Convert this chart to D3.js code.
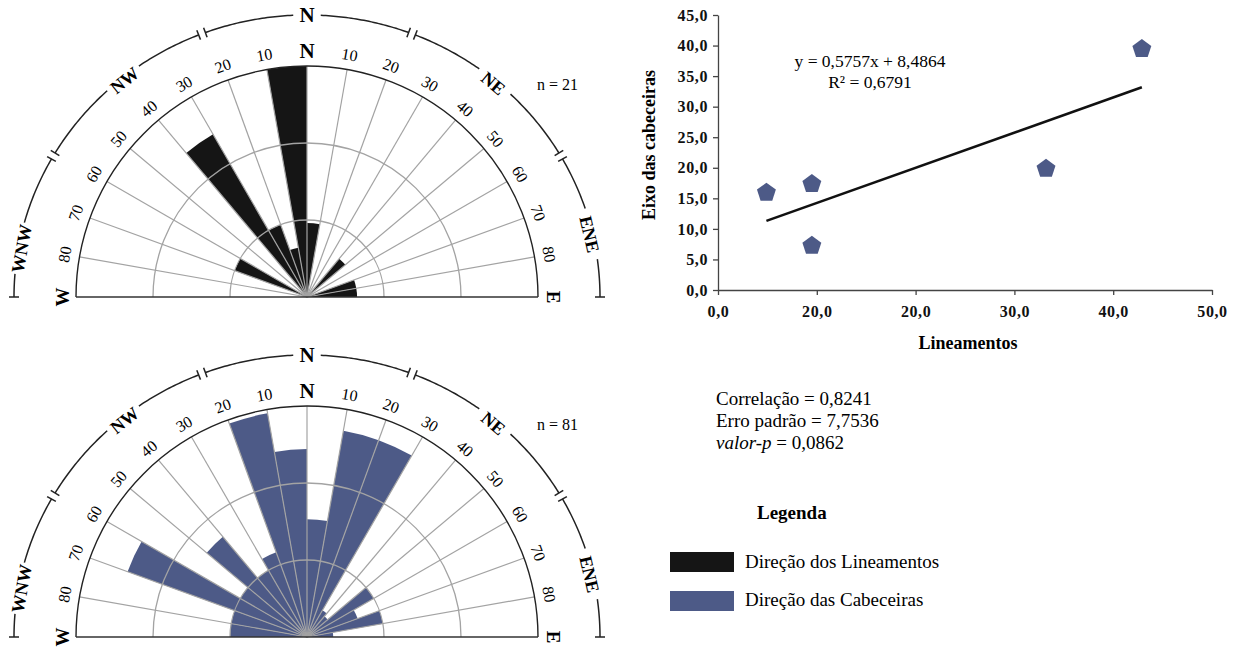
<!DOCTYPE html>
<html>
<head>
<meta charset="utf-8">
<script src="https://cdn.jsdelivr.net/npm/d3@7"></script>
<style>
  body { margin: 0; background: #fff; }
  svg { font-family: "Liberation Serif", "Times New Roman", serif; }
</style>
</head>
<body>
<svg id="fig" width="1233" height="649"></svg>
<script>
// rose sectors of 10 degrees, from W (-90) through N (0) to E (+90)
var sectorStart = [-90, -80, -70, -60, -50, -40, -30, -20, -10, 0, 10, 20, 30, 40, 50, 60, 70, 80];
var lineamentos = [0, 0, 10, 0, 0, 24.4, 10, 6.5, 30, 9.6, 0, 0, 0, 6.5, 0, 0, 6.5, 6.5];
var cabeceiras  = [10, 10, 24.8, 10, 17, 10, 11.7, 29.5, 24.4, 15.3, 27.2, 27.2, 4, 3.5, 10, 7, 10, 3.4];
var ringValues = [10, 20, 30];
var degreeLabels = [10, 20, 30, 40, 50, 60, 70, 80];
var compassLabels = ["WNW", "NW", "N", "NE", "ENE"];
var compassAngles = [-80, -39, 0, 40, 77];
var compassBreaks = [-90, -60, -21, 21, 60, 90];

// scatter
var scatterX = [4.9, 9.5, 9.5, 33.2, 42.9];
var scatterY = [16.1, 17.5, 7.4, 20.0, 39.6];
var xTickValues = [0, 10, 20, 30, 40, 50];
var xTickLabels = ["0,0", "20,0", "20,0", "30,0", "40,0", "50,0"];
var yTickValues = [0, 5, 10, 15, 20, 25, 30, 35, 40, 45];
var slope = 0.5757, intercept = 8.4864;
var eqLines = ["y = 0,5757x + 8,4864", "R\u00B2 = 0,6791"];
var statsLines = [["", "Correla\u00E7\u00E3o = 0,8241"], ["", "Erro padr\u00E3o = 7,7536"], ["valor-p", " = 0,0862"]];
var legendNames = ["Dire\u00E7\u00E3o dos Lineamentos", "Dire\u00E7\u00E3o das Cabeceiras"];
var legendColors = ["#151515", "#4d5a87"];

var svg = d3.select("#fig");
var rad = Math.PI / 180;

function rose(cx, cy, values, color, nText) {
  var R = 231;
  var r = d3.scaleLinear().domain([0, 30]).range([0, R]);
  var g = svg.append("g").attr("transform", "translate(" + cx + "," + cy + ")");

  var arc = d3.arc().innerRadius(0);
  g.selectAll("path.bar").data(values).enter().append("path")
    .attr("class", "bar")
    .attr("d", function (d, i) {
      return arc({ outerRadius: r(d), startAngle: sectorStart[i] * rad, endAngle: (sectorStart[i] + 10) * rad });
    })
    .attr("fill", color);

  // radial grid
  g.selectAll("line.spoke").data(d3.range(-80, 90, 10)).enter().append("line")
    .attr("class", "spoke")
    .attr("x1", 0).attr("y1", 0)
    .attr("x2", function (d) { return d3.pointRadial(d * rad, R)[0]; })
    .attr("y2", function (d) { return d3.pointRadial(d * rad, R)[1]; })
    .attr("stroke", "#a3a3a3").attr("stroke-width", 1.2);

  g.selectAll("path.ring").data(ringValues).enter().append("path")
    .attr("class", "ring")
    .attr("d", function (d) {
      var p = d3.path();
      p.moveTo(-r(d), 0);
      p.arc(0, 0, r(d), Math.PI, 2 * Math.PI);
      return p.toString();
    })
    .attr("fill", "none")
    .attr("stroke", function (d, i) { return i === ringValues.length - 1 ? "#222" : "#a3a3a3"; })
    .attr("stroke-width", function (d, i) { return i === ringValues.length - 1 ? 1.4 : 1.3; });

  g.append("line").attr("x1", -R).attr("x2", R).attr("y1", 0).attr("y2", 0)
    .attr("stroke", "#333").attr("stroke-width", 1.4);

  // degree labels
  var lab = [];
  degreeLabels.forEach(function (d) { lab.push(-d); lab.push(d); });
  g.selectAll("text.deg").data(lab).enter().append("text")
    .attr("class", "deg")
    .attr("transform", function (d) {
      var p = d3.pointRadial(d * rad, R + 15);
      return "translate(" + p[0] + "," + p[1] + ") rotate(" + d + ")";
    })
    .attr("text-anchor", "middle").attr("dy", "0.35em")
    .style("font-size", "16px")
    .text(function (d) { return Math.abs(d); });

  g.append("text").attr("x", 0).attr("y", -(R + 15)).attr("dy", "0.35em")
    .attr("text-anchor", "middle").style("font-size", "21px").style("font-weight", "bold").text("N");
  g.append("text").attr("transform", "translate(" + (-(R + 14)) + ",0) rotate(-90)").attr("dy", "0.35em")
    .attr("text-anchor", "middle").style("font-size", "19px").style("font-weight", "bold").text("W");
  g.append("text").attr("transform", "translate(" + (R + 16) + ",0) rotate(90)").attr("dy", "0.35em")
    .attr("text-anchor", "middle").style("font-size", "19px").style("font-weight", "bold").text("E");

  g.append("text").attr("x", 230).attr("y", -207).style("font-size", "16px").text(nText);

  // outer compass arc (slightly elliptical like the scan)
  var rx = 293, ry = 282;
  function ep(a, dr) { dr = dr || 0; return [(rx + dr) * Math.sin(a * rad), -(ry + dr) * Math.cos(a * rad)]; }
  var line = d3.line();
  var gapHalf = compassLabels.map(function (t) { return (t.length * 15 + 16) / 2 / 2.88 / 2; });
  for (var s = 0; s < compassBreaks.length - 1; s++) {
    var a0 = compassBreaks[s] + (s === 0 ? 0 : 0.7);
    var a1 = compassBreaks[s + 1] - (s === compassBreaks.length - 2 ? 0 : 0.7);
    var pieces = [[a0, a1]];
    compassAngles.forEach(function (la, k) {
      if (la > a0 && la < a1) pieces = [[a0, la - gapHalf[k]], [la + gapHalf[k], a1]];
    });
    pieces.forEach(function (pc) {
      g.append("path")
        .attr("d", line(d3.range(pc[0], pc[1], 0.5).concat([pc[1]]).map(function (a) { return ep(a); })))
        .attr("fill", "none").attr("stroke", "#222").attr("stroke-width", 1.5);
    });
    [a0, a1].forEach(function (a) {
      var pA = ep(a, -5), pB = ep(a, 5);
      g.append("line").attr("x1", pA[0]).attr("y1", pA[1]).attr("x2", pB[0]).attr("y2", pB[1])
        .attr("stroke", "#222").attr("stroke-width", 1.5);
    });
  }
  g.selectAll("text.comp").data(compassLabels).enter().append("text")
    .attr("class", "comp")
    .attr("transform", function (d, i) {
      var p = ep(compassAngles[i], d === "N" ? 0 : -3);
      return "translate(" + p[0] + "," + p[1] + ") rotate(" + compassAngles[i] + ")";
    })
    .attr("text-anchor", "middle").attr("dy", "0.35em")
    .style("font-size", function (d) { return d === "N" ? "21px" : "18px"; })
    .style("font-weight", "bold")
    .text(function (d) { return d; });
}

rose(307, 297, lineamentos, legendColors[0], "n = 21");
rose(307, 637, cabeceiras, legendColors[1], "n = 81");

// scatter plot
var x = d3.scaleLinear().domain([0, 50]).range([718, 1212]);
var y = d3.scaleLinear().domain([0, 45]).range([290, 15]);
var comma = function (d) { return d3.format(".1f")(d).replace(".", ","); };

var xAxis = svg.append("g").attr("transform", "translate(0,290)")
  .call(d3.axisBottom(x).tickValues(xTickValues).tickSize(5).tickSizeOuter(0).tickPadding(11)
    .tickFormat(function (d, i) { return xTickLabels[i]; }));
var yAxis = svg.append("g").attr("transform", "translate(718,0)")
  .call(d3.axisLeft(y).tickValues(yTickValues).tickSize(5).tickSizeOuter(0).tickPadding(5).tickFormat(comma));
[xAxis, yAxis].forEach(function (a) {
  a.selectAll("path, line").attr("stroke", "#444").attr("stroke-width", 1.3);
  a.selectAll("text").attr("fill", "#111")
    .style("font-family", "'Liberation Serif', serif").style("font-size", "16px")
    .style("font-weight", "bold").style("letter-spacing", "0.6px");
});

svg.append("text").attr("transform", "translate(655,145) rotate(-90)")
  .attr("text-anchor", "middle").style("font-size", "18px").style("font-weight", "bold")
  .text("Eixo das cabeceiras");
svg.append("text").attr("x", 968).attr("y", 349)
  .attr("text-anchor", "middle").style("font-size", "18px").style("font-weight", "bold")
  .text("Lineamentos");

var xmin = d3.min(scatterX), xmax = d3.max(scatterX);
svg.append("line")
  .attr("x1", x(xmin)).attr("y1", y(slope * xmin + intercept))
  .attr("x2", x(xmax)).attr("y2", y(slope * xmax + intercept))
  .attr("stroke", "#111").attr("stroke-width", 2.6);

var pentagon = {
  draw: function (ctx, size) {
    var rr = Math.sqrt(size / 2.378);
    for (var i = 0; i < 5; i++) {
      var a = i * 2 * Math.PI / 5;
      if (i) ctx.lineTo(rr * Math.sin(a), -rr * Math.cos(a));
      else ctx.moveTo(rr * Math.sin(a), -rr * Math.cos(a));
    }
    ctx.closePath();
  }
};
svg.selectAll("path.pt").data(scatterX).enter().append("path")
  .attr("class", "pt")
  .attr("transform", function (d, i) { return "translate(" + x(d) + "," + (y(scatterY[i]) + 1) + ")"; })
  .attr("d", d3.symbol().type(pentagon).size(235))
  .attr("fill", legendColors[1]);

svg.selectAll("text.eq").data(eqLines).enter().append("text")
  .attr("class", "eq")
  .attr("x", 870).attr("y", function (d, i) { return 67 + i * 21; })
  .attr("text-anchor", "middle").style("font-size", "17.5px")
  .text(function (d) { return d; });

// statistics
var st = svg.selectAll("text.st").data(statsLines).enter().append("text")
  .attr("class", "st")
  .attr("x", 716).attr("y", function (d, i) { return 405 + i * 22; })
  .style("font-size", "19px");
st.append("tspan").style("font-style", "italic").text(function (d) { return d[0]; });
st.append("tspan").text(function (d) { return d[1]; });

// legend
svg.append("text").attr("x", 757).attr("y", 519)
  .style("font-size", "19px").style("font-weight", "bold").text("Legenda");
svg.selectAll("rect.lg").data(legendNames).enter().append("rect")
  .attr("class", "lg")
  .attr("x", 670).attr("y", function (d, i) { return 552 + i * 39; })
  .attr("width", 64).attr("height", 20)
  .attr("fill", function (d, i) { return legendColors[i]; });
svg.selectAll("text.lg").data(legendNames).enter().append("text")
  .attr("class", "lg")
  .attr("x", 745).attr("y", function (d, i) { return 568 + i * 38; })
  .style("font-size", "19px")
  .text(function (d) { return d; });
</script>
</body>
</html>
